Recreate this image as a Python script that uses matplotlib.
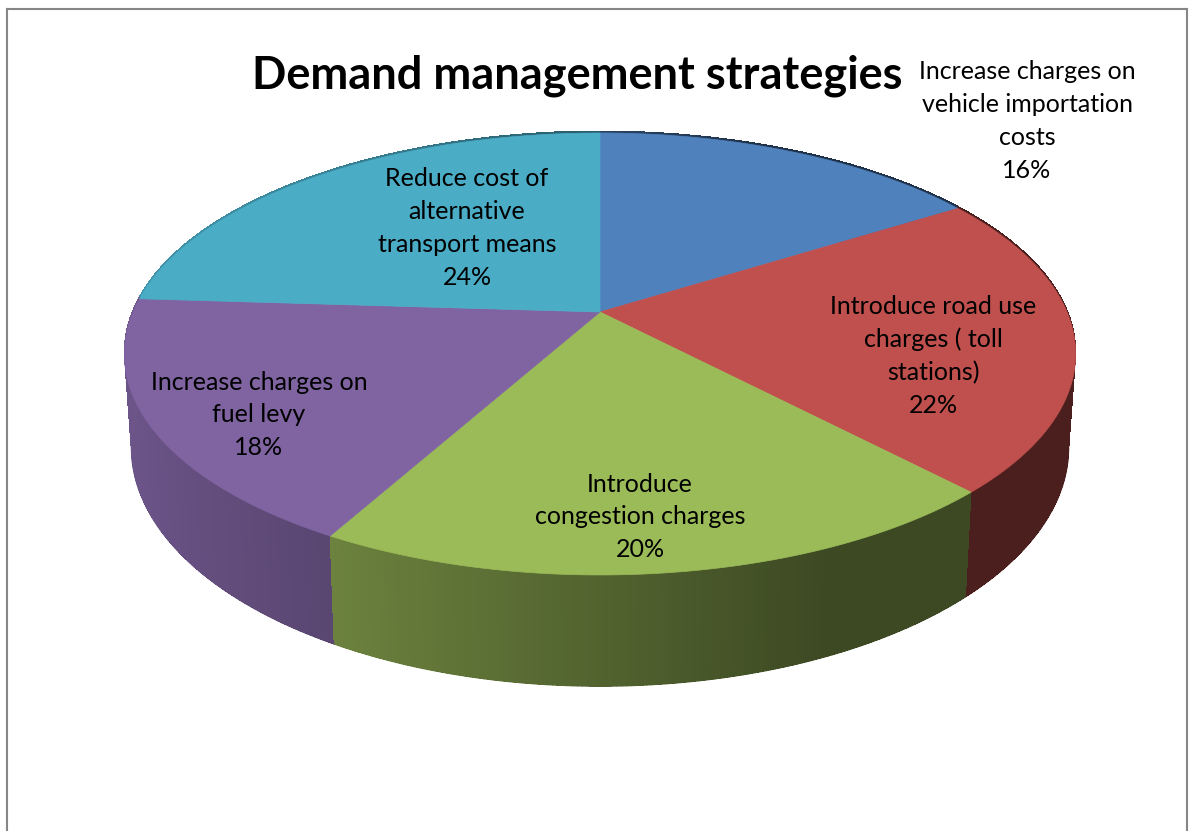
import numpy as np
import matplotlib
matplotlib.use("Agg")
import matplotlib.pyplot as plt
from matplotlib.patches import Polygon
from matplotlib.lines import Line2D
from matplotlib.collections import LineCollection

# ---- data ----
categories = [
    "Increase charges on\nvehicle importation\ncosts",
    "Introduce road use\ncharges ( toll\nstations)",
    "Introduce\ncongestion charges",
    "Increase charges on\nfuel levy",
    "Reduce cost of\nalternative\ntransport means",
]
values = [16, 22, 20, 18, 24]
colors = ["#4F81BD", "#C0504D", "#9BBB59", "#8064A2", "#4BACC6"]
title = "Demand management strategies"

# label anchor positions (pixels) for data labels
label_pos = [(1027, 121), (933, 356), (640, 517), (259, 415), (467, 228)]

FONT = "Lato"

W, H = 1192, 831
fig = plt.figure(figsize=(W / 100, H / 100), dpi=100)
ax = fig.add_axes([0, 0, 1, 1])
ax.set_xlim(0, W)
ax.set_ylim(H, 0)
ax.axis("off")

# pseudo-perspective projection of a unit disc
cx, cy = 600.0, 312.0
a, b, k = 467.0, 213.0, 0.19
d, s = 90.0, 0.985


def top_pt(th, lift=0.0):
    X, Y = np.cos(th), np.sin(th)
    den = 1 + k * Y
    return cx + a * X / den, cy - b * Y / den - lift


def bot_pt(th):
    X, Y = np.cos(th), np.sin(th)
    den = 1 + k * Y
    return cx + a * s * X / den, cy - b * Y / den + d / den


def shade(X):
    return np.interp(X, [-1.0, -0.55, 0.4, 1.0], [0.86, 0.72, 0.39, 0.39])


# slice angles: start at 12 o'clock, clockwise
total = float(sum(values))
fracs = np.array(values) / total
starts = np.pi / 2 - 2 * np.pi * np.concatenate([[0], np.cumsum(fracs)[:-1]])
ends = starts - 2 * np.pi * fracs

# ---- side walls ----
quads = []
segs, segc = [], []
for i, (st, en) in enumerate(zip(starts, ends)):
    n = max(int(abs(st - en) / (2 * np.pi) * 720), 4)
    ths = np.linspace(st, en, n + 1)
    base = np.array(matplotlib.colors.to_rgb(colors[i]))
    for t0, t1 in zip(ths[:-1], ths[1:]):
        tm = 0.5 * (t0 + t1)
        p = [top_pt(t0, 2.0), top_pt(t1, 2.0), bot_pt(t1), bot_pt(t0)]
        c = np.clip(base * shade(np.cos(tm)), 0, 1)
        quads.append((np.sin(tm), p, c))
        if np.sin(tm) < 0.2:
            segs.append([bot_pt(t0), bot_pt(t1)])
            segc.append(c)
quads.sort(key=lambda q: -q[0])
for _, p, c in quads:
    ax.add_patch(Polygon(p, closed=True, facecolor=c, edgecolor="none",
                         lw=0, antialiased=False, zorder=1))
ax.add_collection(LineCollection(segs, colors=segc, linewidths=1.0,
                                 antialiased=True, capstyle="round",
                                 zorder=2))

# ---- top faces ----
for i, (st, en) in enumerate(zip(starts, ends)):
    ths = np.linspace(st, en, 300)
    pts = [(cx, cy)] + [top_pt(t) for t in ths]
    ax.add_patch(Polygon(pts, closed=True, facecolor=colors[i],
                         edgecolor=colors[i], lw=0.5, zorder=3))

# ---- labels ----
for i, (lab, v) in enumerate(zip(categories, values)):
    x, y = label_pos[i]
    ax.text(x, y, f"{lab}\n{v}%", ha="center", va="center", fontsize=18,
            family=FONT, color="black", linespacing=1.52, zorder=5)

ax.text(577, 76, title, ha="center", va="center", fontsize=32.5,
        fontweight="bold", family=FONT, color="black", zorder=5)

# ---- chart frame ----
frame = dict(color="#868686", lw=1.5, zorder=6)
ax.add_line(Line2D([7, 7], [9, H + 5], **frame))
ax.add_line(Line2D([7, 1187], [9, 9], **frame))
ax.add_line(Line2D([1187, 1187], [9, H + 5], **frame))

fig.savefig("out.png", dpi=100)
